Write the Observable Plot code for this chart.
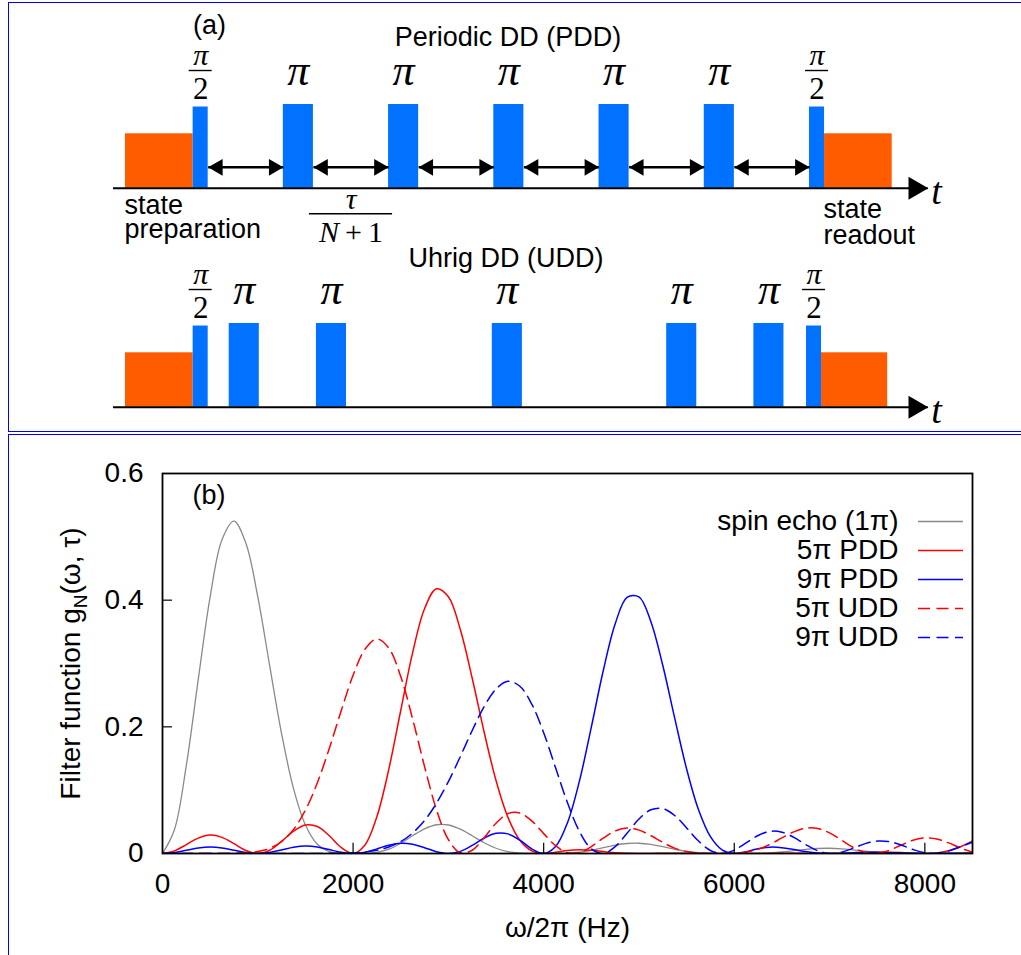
<!DOCTYPE html>
<html>
<head>
<meta charset="utf-8">
<script src="https://cdn.jsdelivr.net/npm/d3@7"></script>
<script src="https://cdn.jsdelivr.net/npm/@observablehq/plot@0.6"></script>
<style>
  html, body { margin: 0; padding: 0; background: #fff; overflow: hidden; }
  #page { position: relative; width: 1021px; height: 955px; overflow: hidden; background: #fff; }
  #page svg { position: absolute; left: 0; }
  .box { position: absolute; border: 1.3px solid #0000ff; box-sizing: border-box; pointer-events: none; }
  #boxA { left: 8px; top: 2px; width: 1100px; height: 430px; }
  #boxB { left: 8px; top: 434px; width: 1100px; height: 600px; }
</style>
</head>
<body>
<div id="page"></div>
<script>
// ---------------- Panel (a): pulse sequences (time in arbitrary units) ----------------
const pddPulseStart  = [9, 21, 35, 49, 63, 77, 91];
const pddPulseLength = [2, 4, 4, 4, 4, 4, 2];
const pddPulseAngle  = ["π/2", "π", "π", "π", "π", "π", "π/2"];
const uddPulseStart  = [9, 13.8, 25.4, 48.8, 72, 83.6, 90.6];
const uddPulseLength = [2, 4, 4, 4, 4, 4, 2];
const uddPulseAngle  = ["π/2", "π", "π", "π", "π", "π", "π/2"];
const pddLaserStart = [0, 93];
const pddLaserEnd   = [9, 102];
const uddLaserStart = [0, 92.6];
const uddLaserEnd   = [9, 101.4];
const laserLabels   = ["state\npreparation", "state\nreadout"];
const piAmplitude = 1, halfPiAmplitude = 0.97, laserAmplitude = 0.65;
const timeAxis = [-1.6, 106.8];
const sequenceTitles = ["Periodic DD (PDD)", "Uhrig DD (UDD)"];

// ---------------- Panel (b): filter functions ----------------
const freqHz = [0,125,250,375,500,625,750,875,1000,1125,1250,1375,1500,1625,1750,1875,2000,2125,2250,2375,2500,2625,2750,2875,3000,3125,3250,3375,3500,3625,3750,3875,4000,4125,4250,4375,4500,4625,4750,4875,5000,5125,5250,5375,5500,5625,5750,5875,6000,6125,6250,6375,6500,6625,6750,6875,7000,7125,7250,7375,7500,7625,7750,7875,8000,8125,8250,8375,8500];
const spinEcho = [0,.0376,.1391,.2746,.4053,.4959,.5249,.4898,.4053,.2963,.1890,.1025,.0450,.0146,.0028,.0002,0,.0001,.0017,.0068,.0162,.0281,.0390,.0454,.0450,.0384,.0280,.0170,.0083,.0029,.0006,0,0,0,.0005,.0020,.0050,.0091,.0131,.0158,.0162,.0143,.0107,.0067,.0034,.0012,.0003,0,0,0,.0002,.0010,.0024,.0044,.0065,.0079,.0083,.0074,.0056,.0036,.0018,.0007,.0001,0,0,0,.0001,.0006,.0014];
const pdd5 = [0,.0041,.0141,.0243,.0291,.0255,.0155,.0047,0,.0052,.0191,.0352,.0450,.0426,.0281,.0095,0,.0135,.0583,.1331,.2258,.3172,.3865,.4179,.4053,.3537,.2767,.1919,.1152,.0571,.0210,.0041,0,.0020,.0048,.0059,.0050,.0031,.0013,.0003,0,.0001,.0003,.0003,.0002,.0001,0,0,0,0,0,.0001,.0002,.0002,.0002,.0001,0,.0001,.0006,.0012,.0018,.0019,.0014,.0005,0,.0009,.0043,.0107,.0195];
const pdd9 = [0,.0015,.0050,.0086,.0102,.0088,.0052,.0015,0,.0016,.0056,.0097,.0117,.0103,.0062,.0019,0,.0020,.0073,.0131,.0162,.0147,.0092,.0029,0,.0034,.0128,.0242,.0319,.0310,.0210,.0073,0,.0110,.0487,.1142,.1995,.2886,.3625,.4045,.4053,.3660,.2968,.2137,.1335,.0691,.0266,.0054,0,.0029,.0076,.0100,.0092,.0063,.0030,.0007,0,.0005,.0013,.0019,.0018,.0013,.0006,.0002,0,.0001,.0003,.0004,.0004];
const udd5 = [0,0,0,0,0,0,.0002,.0010,.0031,.0082,.0189,.0380,.0685,.1117,.1658,.2253,.2814,.3225,.3388,.3242,.2794,.2124,.1372,.0693,.0219,.0011,.0051,.0248,.0478,.0629,.0639,.0514,.0314,.0123,.0013,.0015,.0110,.0244,.0356,.0401,.0369,.0281,.0175,.0085,.0030,.0006,.0001,0,.0004,.0021,.0066,.0145,.0246,.0342,.0400,.0395,.0325,.0211,.0095,.0017,.0003,.0049,.0131,.0209,.0247,.0230,.0167,.0087,.0022];
const udd9 = [0,0,0,0,0,0,0,0,0,0,0,0,0,0,.0002,.0004,.0010,.0024,.0051,.0102,.0187,.0323,.0521,.0793,.1135,.1530,.1942,.2319,.2597,.2719,.2641,.2359,.1907,.1353,.0801,.0350,.0074,.0002,.0108,.0320,.0544,.0691,.0710,.0600,.0404,.0197,.0048,0,.0053,.0168,.0285,.0350,.0337,.0255,.0141,.0044,.0001,.0021,.0085,.0156,.0196,.0187,.0134,.0064,.0012,.0002,.0040,.0108,.0178];
const seriesNames  = ["spin echo (1π)", "5π PDD", "9π PDD", "5π UDD", "9π UDD"];
const seriesValues = [spinEcho, pdd5, pdd9, udd5, udd9];
const seriesColors = ["#8a8a8a", "#ff0000", "#0000ff", "#ff0000", "#0000ff"];
const seriesDashes = [null, null, null, "12,6.5", "12,6.5"];
const xTicks = [0, 2000, 4000, 6000, 8000];
const yTicks = [0, 0.2, 0.4, 0.6];

// ---------------- helpers ----------------
const SANS = "Liberation Sans, Arial, Helvetica, sans-serif";
const SERIF = "Liberation Serif, DejaVu Serif, Times New Roman, serif";
const PULSE = "#0072ff", LASER = "#ff5c00";
const NS = "http://www.w3.org/2000/svg";

function pulses(starts, lengths, angles) {
  return starts.map((s, i) => ({start: s, end: s + lengths[i], mid: s + lengths[i] / 2, angle: angles[i],
    amp: angles[i] === "π" ? piAmplitude : halfPiAmplitude}));
}
function lasers(starts, ends) {
  return starts.map((s, i) => ({start: s, end: ends[i], label: laserLabels[i]}));
}

function sequencePlot(opts) {
  const P = pulses(opts.starts, opts.lengths, opts.angles);
  const L = lasers(opts.laserStart, opts.laserEnd);
  const full = P.filter(p => p.angle === "π");
  const half = P.filter(p => p.angle !== "π");
  const marks = [
    Plot.rect(L, {x1: "start", x2: "end", y1: () => 0, y2: () => laserAmplitude, fill: LASER}),
    Plot.rect(P, {x1: "start", x2: "end", y1: () => 0, y2: "amp", fill: PULSE}),
    Plot.ruleY([0], {x1: timeAxis[0], x2: timeAxis[1], stroke: "#000", strokeWidth: 2}),
    Plot.dot([timeAxis[1]], {x: d => d, y: () => 0, symbol: "triangle", r: 8.5, rotate: 90, fill: "#000", stroke: "none", dx: -13.2}),
    Plot.text(["t"], {x: () => timeAxis[1], y: () => 0, text: d => d, dx: 3, dy: 15.5, lineAnchor: "bottom", textAnchor: "start",
      fontFamily: SERIF, fontStyle: "italic", fontSize: 38}),
    Plot.text(full, {x: "mid", y: "amp", text: () => "π", dy: -19.5, lineAnchor: "bottom", fontFamily: SERIF, fontStyle: "italic", fontSize: 44}),
    Plot.text(half, {x: "mid", y: "amp", text: () => "π", dy: -42, lineAnchor: "bottom", fontFamily: SERIF, fontStyle: "italic", fontSize: 30}),
    Plot.ruleY(half, {y: "amp", x1: "start", x2: "end", insetLeft: -4, insetRight: -4, dy: -36.5, stroke: "#000", strokeWidth: 1.4}),
    Plot.text(half, {x: "mid", y: "amp", text: () => "2", dy: -7.7, lineAnchor: "bottom", fontFamily: SERIF, fontSize: 31}),
    Plot.text([opts.title], {frameAnchor: "top-left", text: d => d, dx: opts.titleX, dy: opts.titleY, lineAnchor: "bottom",
      textAnchor: "middle", fontFamily: SANS, fontSize: 27})
  ];
  if (opts.extra) marks.push(...opts.extra(P, L));
  return Plot.plot({
    width: 1021, height: opts.height, margin: 0,
    x: {domain: [0, 102], range: [125, 891.7], axis: null},
    y: {domain: [0, 1], range: [opts.baseY, opts.topY], axis: null},
    style: {background: "transparent", overflow: "visible"},
    marks
  });
}

const page = document.getElementById("page");

// PDD row
const pdd = sequencePlot({
  height: 245, baseY: 187.7, topY: 104,
  starts: pddPulseStart, lengths: pddPulseLength, angles: pddPulseAngle,
  laserStart: pddLaserStart, laserEnd: pddLaserEnd,
  title: sequenceTitles[0], titleX: 507.5, titleY: 45,
  extra: (P, L) => {
    const gaps = P.slice(0, -1).map((p, i) => ({x1: p.end, x2: P[i + 1].start, mid: (p.end + P[i + 1].start) / 2}));
    return [
      Plot.link(gaps, {x1: "x1", x2: "x2", y1: () => 0.25, y2: () => 0.25, stroke: "#000", strokeWidth: 2.6}),
      Plot.dot(gaps, {x: "x2", y: () => 0.25, symbol: "triangle", r: 6.2, rotate: 90, fill: "#000", stroke: "none", dx: -9.6}),
      Plot.dot(gaps, {x: "x1", y: () => 0.25, symbol: "triangle", r: 6.2, rotate: -90, fill: "#000", stroke: "none", dx: 9.6}),
      Plot.text([gaps[1]], {x: "mid", y: () => 0, text: () => "τ", dy: 20.6, lineAnchor: "bottom", fontFamily: SERIF, fontStyle: "italic", fontSize: 30}),
      Plot.ruleY([gaps[1]], {y: () => 0, x1: "x1", x2: "x2", insetLeft: -4, insetRight: -4, dy: 25.6, stroke: "#000", strokeWidth: 1.4}),
      Plot.text([gaps[1]], {x: "mid", y: () => 0, text: () => "N\u2009+\u20091", dy: 54, lineAnchor: "bottom", fontFamily: SERIF, fontSize: 30}),
      Plot.text([L[0]], {x: "start", y: () => 0, text: "label", dx: -1, dy: 49.8, lineAnchor: "bottom", textAnchor: "start", lineHeight: 0.9, fontFamily: SANS, fontSize: 27}),
      Plot.text([L[1]], {x: "start", y: () => 0, text: "label", dx: -1, dy: 55.5, lineAnchor: "bottom", textAnchor: "start", lineHeight: 0.97, fontFamily: SANS, fontSize: 27}),
      Plot.text(["(a)"], {frameAnchor: "top-left", text: d => d, dx: 209, dy: 33, lineAnchor: "bottom", textAnchor: "middle", fontFamily: SANS, fontSize: 27})
    ];
  }
});
pdd.style.top = "0px";
page.appendChild(pdd);

// UDD row
const udd = sequencePlot({
  height: 187, baseY: 161.7, topY: 78,
  starts: uddPulseStart, lengths: uddPulseLength, angles: uddPulseAngle,
  laserStart: uddLaserStart, laserEnd: uddLaserEnd,
  title: sequenceTitles[1], titleX: 505.5, titleY: 21.7
});
udd.style.top = "245px";
page.appendChild(udd);

// ---------------- Panel (b) chart ----------------
const rows = seriesNames.map((name, i) => freqHz.map((f, k) => ({f, g: seriesValues[i][k], name})));
const lineMarks = rows.map((data, i) => Plot.line(data, {
  x: "f", y: "g", stroke: seriesColors[i], strokeWidth: i === 0 ? 1.3 : 1.5,
  strokeDasharray: seriesDashes[i] || undefined, curve: "catmull-rom", clip: true
}));

const chart = Plot.plot({
  width: 1021, height: 520,
  marginLeft: 162, marginRight: 49, marginTop: 38, marginBottom: 102,
  x: {domain: [0, 8500]},
  y: {domain: [0, 0.6]},
  style: {fontFamily: SANS, fontSize: "28px", background: "transparent", overflow: "visible", color: "#000"},
  marks: [
    ...lineMarks,
    Plot.ruleX(xTicks.slice(1), {y1: () => 0, y2: () => 0.016, stroke: "#000", strokeWidth: 1.2}),
    Plot.ruleY(yTicks.slice(1, -1), {x1: () => 0, x2: () => 105, stroke: "#000", strokeWidth: 1.2}),
    Plot.axisX({ticks: xTicks, tickSize: 0, tickPadding: 20, tickFormat: d3.format("d"), label: null, fontSize: 28}),
    Plot.axisY({ticks: yTicks, tickSize: 0, tickPadding: 19, tickFormat: d => d === 0 ? "0" : d.toFixed(1), label: null, fontSize: 28}),
    Plot.frame({stroke: "#000", strokeWidth: 1.8}),
    Plot.text(["(b)"], {frameAnchor: "top-left", text: d => d, dx: 30, dy: 30, lineAnchor: "bottom", textAnchor: "start", fontSize: 27}),
    Plot.text(["ω/2π (Hz)"], {frameAnchor: "bottom", text: d => d, dy: 75, lineAnchor: "middle", textAnchor: "middle", fontSize: 28}),
    Plot.text(["Filter function g_N(ω, τ)"], {frameAnchor: "left", text: d => d, dx: -91, rotate: -90,
      textAnchor: "middle", lineAnchor: "middle", fontSize: 28})
  ]
});
chart.style.top = "435px";
page.appendChild(chart);

// subscript N in the y-axis title
chart.querySelectorAll("text").forEach(t => {
  if (t.textContent === "Filter function g_N(ω, τ)") {
    t.textContent = "";
    const a = document.createElementNS(NS, "tspan"); a.textContent = "Filter function g";
    const b = document.createElementNS(NS, "tspan"); b.textContent = "N"; b.setAttribute("font-size", "19"); b.setAttribute("dy", "7");
    const c = document.createElementNS(NS, "tspan"); c.textContent = "(ω, τ)"; c.setAttribute("dy", "-7");
    t.append(a, b, c);
    t.setAttribute("text-anchor", "middle");
  }
});
// italic N in the τ/(N+1) denominator
pdd.querySelectorAll("text").forEach(t => {
  if (t.textContent === "N\u2009+\u20091") {
    t.textContent = "";
    const a = document.createElementNS(NS, "tspan"); a.textContent = "N"; a.setAttribute("font-style", "italic");
    const b = document.createElementNS(NS, "tspan"); b.textContent = "\u2009+\u20091";
    t.append(a, b);
  }
});

// ---------------- legend (series names) ----------------
const legendRows = seriesNames.map((name, i) => ({name, i}));
const legend = Plot.plot({
  width: 1021, height: 150, margin: 0,
  x: {domain: [0, 1], range: [918, 963], axis: null},
  y: {type: "point", domain: seriesNames, range: [15, 133.8], padding: 0, axis: null},
  style: {fontFamily: SANS, fontSize: "28px", background: "transparent", overflow: "visible"},
  marks: [
    ...legendRows.map(r => Plot.ruleY([r], {y: "name", x1: () => 0, x2: () => 1, stroke: seriesColors[r.i],
      strokeWidth: r.i === 0 ? 1.3 : 1.5, strokeDasharray: seriesDashes[r.i] || undefined})),
    Plot.text(legendRows, {y: "name", x: () => 0, dx: -20, text: "name", textAnchor: "end", fontSize: 28})
  ]
});
legend.style.top = "505px";
page.appendChild(legend);

// frames around the two panels
const boxA = document.createElement("div"); boxA.className = "box"; boxA.id = "boxA"; page.appendChild(boxA);
const boxB = document.createElement("div"); boxB.className = "box"; boxB.id = "boxB"; page.appendChild(boxB);
</script>
</body>
</html>
